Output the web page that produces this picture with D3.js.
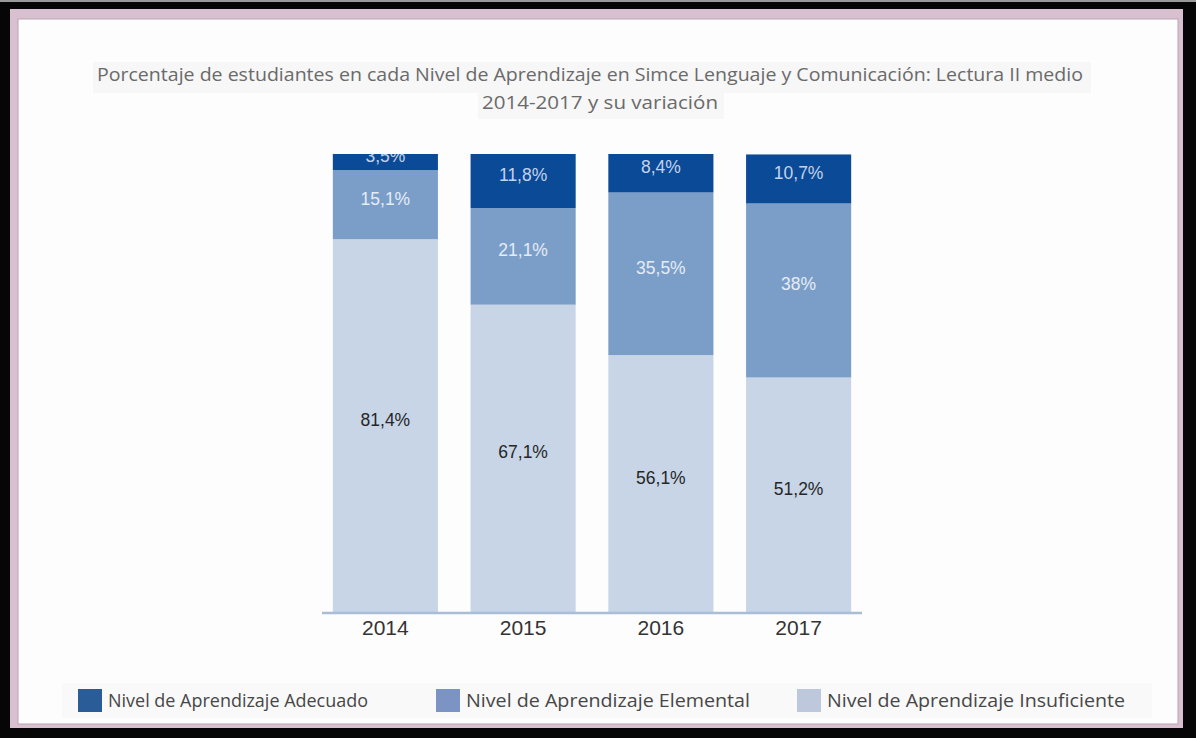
<!DOCTYPE html>
<html>
<head>
<meta charset="utf-8">
<script src="https://cdn.jsdelivr.net/npm/d3@7"></script>
<style>
  html, body { margin: 0; padding: 0; background: #fff; }
  svg { display: block; }
</style>
</head>
<body>
<svg id="chart" width="1196" height="738"></svg>
<script>
// Simce Lenguaje y Comunicación: Lectura II medio, 2014-2017
const years = ["2014", "2015", "2016", "2017"];
const adecuado = [3.5, 11.8, 8.4, 10.7];
const elemental = [15.1, 21.1, 35.5, 38];
const insuficiente = [81.4, 67.1, 56.1, 51.2];

const seriesKeys = ["insuficiente", "elemental", "adecuado"];
const seriesNames = {
  adecuado: "Nivel de Aprendizaje Adecuado",
  elemental: "Nivel de Aprendizaje Elemental",
  insuficiente: "Nivel de Aprendizaje Insuficiente"
};
const titleLines = [
  "Porcentaje de estudiantes en cada Nivel de Aprendizaje en Simce Lenguaje y Comunicación: Lectura II medio",
  "2014-2017 y su variación"
];

const barColors = { adecuado: "#0b4a97", elemental: "#7b9ec8", insuficiente: "#c7d5e6" };
const swatchColors = { adecuado: "#2a5d97", elemental: "#7b94c3", insuficiente: "#bec8dc" };
const labelColors = { adecuado: "#c3d3ea", elemental: "#e4ecf6", insuficiente: "#262626" };

const rows = years.map((y, i) => ({
  year: y,
  adecuado: adecuado[i],
  elemental: elemental[i],
  insuficiente: insuficiente[i]
}));

const svg = d3.select("#chart");

// picture frame
svg.append("rect").attr("x", 0).attr("y", 0).attr("width", 1196).attr("height", 738).attr("fill", "#060606");
svg.append("rect").attr("x", 0).attr("y", 0).attr("width", 1196).attr("height", 2).attr("fill", "#9a9a9a");
svg.append("rect").attr("x", 10).attr("y", 9).attr("width", 1173).attr("height", 719).attr("fill", "#d9c0d1");
svg.append("rect").attr("x", 18).attr("y", 19).attr("width", 1160).attr("height", 705)
  .attr("fill", "#fefdfe").attr("stroke", "#b9a6b4").attr("stroke-width", 1);

// title
const titleFont = "'Open Sans', 'DejaVu Sans', sans-serif";
svg.append("rect").attr("x", 93).attr("y", 62).attr("width", 998).attr("height", 31).attr("fill", "#f7f7f7");
svg.append("rect").attr("x", 478).attr("y", 93).attr("width", 246).attr("height", 26).attr("fill", "#f7f7f7");
const titleSpecs = [
  { text: titleLines[0], x: 590, y: 81, len: 986 },
  { text: titleLines[1], x: 600, y: 109, len: 236 }
];
svg.selectAll("text.title").data(titleSpecs).join("text")
  .attr("class", "title")
  .attr("x", d => d.x).attr("y", d => d.y)
  .attr("text-anchor", "middle")
  .attr("font-family", titleFont)
  .attr("font-size", 18)
  .attr("fill", "#6a6a6a")
  .attr("textLength", d => d.len)
  .attr("lengthAdjust", "spacingAndGlyphs")
  .text(d => d.text);

// scales
const x = d3.scaleBand().domain(years).range([316.5, 867.5]).paddingInner(0.237).paddingOuter(0.1185);
const y = d3.scaleLinear().domain([0, 100]).range([612, 154]);

const stacked = d3.stack().keys(seriesKeys)(rows);

const fmt = v => String(v).replace(".", ",") + "%";

const layers = svg.append("g").selectAll("g.layer").data(stacked).join("g")
  .attr("class", "layer")
  .attr("fill", d => barColors[d.key]);

layers.selectAll("rect").data(d => d).join("rect")
  .attr("x", d => x(d.data.year))
  .attr("y", d => y(d[1]))
  .attr("width", x.bandwidth())
  .attr("height", d => y(d[0]) - y(d[1]));

// value labels, baseline at the middle of each segment
const labelLayers = svg.append("g").selectAll("g.lab").data(stacked).join("g").attr("class", "lab");
labelLayers.selectAll("text").data(d => d.map(s => ({ key: d.key, s }))).join("text")
  .attr("x", d => x(d.s.data.year) + x.bandwidth() / 2)
  .attr("y", d => (y(d.s[0]) + y(d.s[1])) / 2)
  .attr("text-anchor", "middle")
  .attr("font-family", "'Liberation Sans', Arial, sans-serif")
  .attr("font-size", 17.5)
  .attr("fill", d => labelColors[d.key])
  .text(d => fmt(d.s.data[d.key]));

// white area above the plot hides label overflow from the thin top segment
svg.append("rect").attr("x", 320).attr("y", 140).attr("width", 550).attr("height", 14).attr("fill", "#fefdfe");

// x axis
const axis = svg.append("g").attr("transform", "translate(0,613)")
  .call(d3.axisBottom(x).tickSize(0).tickPadding(7));
axis.select(".domain").attr("stroke", "#a9bdd7").attr("stroke-width", 2.5)
  .attr("d", "M322,0H862");
axis.selectAll(".tick text")
  .attr("font-family", "'Liberation Sans', Arial, sans-serif")
  .attr("font-size", 21)
  .attr("fill", "#333");

// legend
svg.append("rect").attr("x", 62).attr("y", 683).attr("width", 1090).attr("height", 35).attr("fill", "#f9f9f9");
const legendItems = [
  { key: "adecuado", x: 78, len: 260 },
  { key: "elemental", x: 436, len: 284 },
  { key: "insuficiente", x: 797, len: 298 }
];
const leg = svg.append("g").selectAll("g").data(legendItems).join("g")
  .attr("transform", d => `translate(${d.x},689)`);
leg.append("rect").attr("width", 24).attr("height", 23).attr("fill", d => swatchColors[d.key]);
leg.append("text")
  .attr("x", 30).attr("y", 17.5)
  .attr("font-family", titleFont)
  .attr("font-size", 18)
  .attr("fill", "#474747")
  .attr("textLength", d => d.len)
  .attr("lengthAdjust", "spacingAndGlyphs")
  .text(d => seriesNames[d.key]);
</script>
</body>
</html>
